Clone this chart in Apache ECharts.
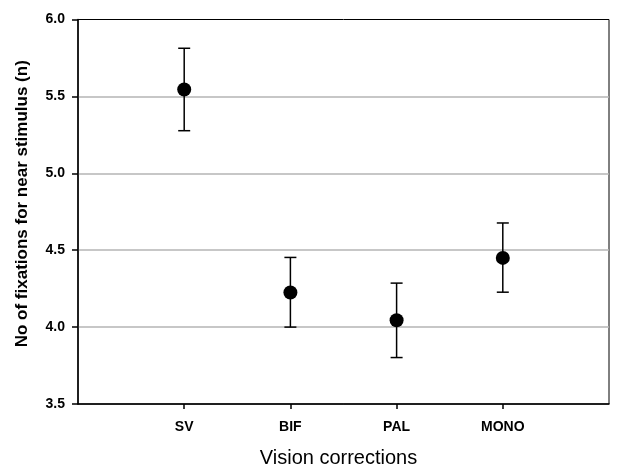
<!DOCTYPE html>
<html>
<head>
<meta charset="utf-8">
<script src="https://cdn.jsdelivr.net/npm/echarts@6/dist/echarts.min.js"></script>
<style>
  html, body { margin: 0; padding: 0; background: #fff; }
  #chart { width: 617px; height: 468px; }
</style>
</head>
<body>
<div id="chart"></div>
<script>
// data
const categories = ["SV", "BIF", "PAL", "MONO"];
const positions = [1, 2, 3, 4];
const means = [5.545, 4.225, 4.045, 4.45];
const lower = [5.277, 4.0, 3.802, 4.227];
const upper = [5.813, 4.453, 4.286, 4.677];
const yTicks = [3.5, 4.0, 4.5, 5.0, 5.5, 6.0];

const points = positions.map((p, i) => [p, means[i]]);
const bars = positions.map((p, i) => [p, lower[i], upper[i]]);

const labelFont = "'Liberation Sans', Arial, sans-serif";

const option = {
  backgroundColor: "#fff",
  animation: false,
  grid: {
    left: 78,
    right: 8,
    top: 19.5,
    bottom: 64,
    outerBoundsMode: "none",
    show: true,
    borderColor: "#000",
    borderWidth: 1,
  },
  xAxis: {
    type: "value",
    min: 0,
    max: 5,
    interval: 1,
    name: "Vision corrections",
    nameLocation: "middle",
    nameGap: 44,
    nameTextStyle: {
      color: "#000",
      fontSize: 20,
      fontFamily: labelFont,
      padding: [0, 10, 0, 0],
    },
    axisLine: { lineStyle: { color: "#000", width: 1.5 } },
    axisTick: {
      customValues: positions,
      length: 5,
      lineStyle: { color: "#000", width: 1.5 },
    },
    axisLabel: {
      customValues: positions,
      margin: 16,
      color: "#000",
      fontSize: 14,
      fontWeight: "bold",
      fontFamily: labelFont,
      formatter: (v) => categories[positions.indexOf(v)] || "",
    },
    splitLine: { show: false },
  },
  yAxis: {
    type: "value",
    min: yTicks[0],
    max: yTicks[yTicks.length - 1],
    interval: 0.5,
    name: "No of fixations for near stimulus (n)",
    nameLocation: "middle",
    nameGap: 47,
    nameTextStyle: {
      color: "#000",
      fontSize: 17,
      fontWeight: "bold",
      fontFamily: labelFont,
      padding: [0, 0, 0, 16],
    },
    axisLine: { lineStyle: { color: "#000", width: 1.5 } },
    axisTick: { length: 6, lineStyle: { color: "#000", width: 1.5 } },
    axisLabel: {
      margin: 13,
      color: "#000",
      fontSize: 14,
      fontWeight: "bold",
      fontFamily: labelFont,
      formatter: (v) => v.toFixed(1),
    },
    splitLine: {
      show: true,
      showMinLine: false,
      showMaxLine: false,
      lineStyle: { color: "#b4b4b4", width: 1.5 },
    },
  },
  series: [
    {
      type: "custom",
      data: bars,
      z: 2,
      renderItem: function (params, api) {
        const x = api.value(0);
        const lo = api.coord([x, api.value(1)]);
        const hi = api.coord([x, api.value(2)]);
        const half = 6;
        const style = { stroke: "#000", lineWidth: 1.5 };
        return {
          type: "group",
          children: [
            { type: "line", shape: { x1: lo[0], y1: lo[1], x2: hi[0], y2: hi[1] }, style: style },
            { type: "line", shape: { x1: lo[0] - half, y1: lo[1], x2: lo[0] + half, y2: lo[1] }, style: style },
            { type: "line", shape: { x1: hi[0] - half, y1: hi[1], x2: hi[0] + half, y2: hi[1] }, style: style },
          ],
        };
      },
    },
    {
      type: "scatter",
      data: points,
      symbol: "circle",
      symbolSize: 14,
      z: 3,
      itemStyle: { color: "#000", opacity: 1 },
    },
  ],
};

const myChart = echarts.init(document.getElementById("chart"));
myChart.setOption(option);
</script>
</body>
</html>
